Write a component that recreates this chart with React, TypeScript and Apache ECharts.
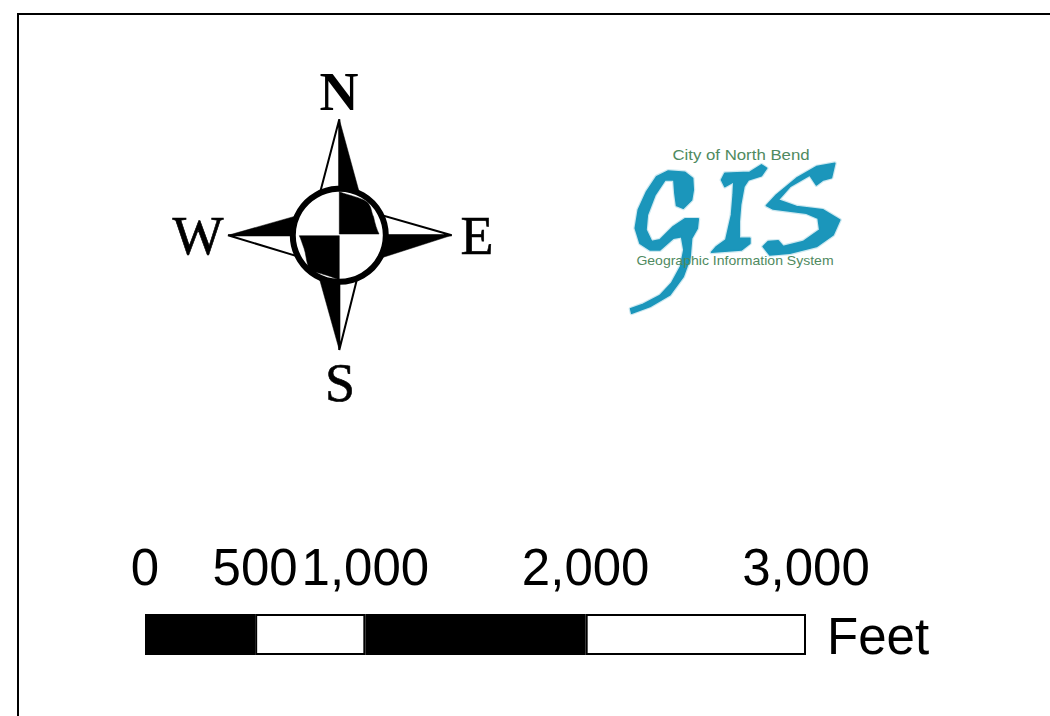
import React, { useEffect, useRef } from "react";
import * as echarts from "echarts";

const scaleTicks = [0, 500, 1000, 2000, 3000];
const segmentLengths = [500, 500, 1000, 1000];
const unitLabel = "Feet";
const directions = ["N", "E", "S", "W"];
const logoTop = "City of North Bend";
const logoBottom = "Geographic Information System";

const POINTS_BLACK_D =
  "M339.3 119.3 L358.9 191 L339.3 235.3 Z " +
  "M451.7 235.3 L381 258 L339.3 235.3 Z " +
  "M339.3 350 L319.5 279 L339.3 235.3 Z " +
  "M228 235.3 L297 215.7 L339.3 235.3 Z";
const POINTS_WHITE_D =
  "M339.3 119.3 L320.5 191 L339.3 235.3 Z " +
  "M451.7 235.3 L383 215.6 L339.3 235.3 Z " +
  "M339.3 350 L357 279 L339.3 235.3 Z " +
  "M228 235.3 L297 256.1 L339.3 235.3 Z";
const QUADRANTS_D =
  "M339.3 191.7 C350 196 360 197 367 202 C372 207 371 212 373.5 216.7 C375 224 377 230 379 234 L339.3 234 Z " +
  "M299.3 235.7 L339.3 235.7 L339.3 280 C330 276 325 275 320 273.3 C314 272 310 270 308.3 266.7 C306 260 306 254 304 248.3 C302 243 301 239 299.3 235.7 Z";
const G_D =
  "M62 522 L100 508 L150 482 L185 445 L212 395 L222 345 L215 305 L190 310 L150 345 L120 345 L90 325 L76 280 L85 225 L110 170 L140 125 L175 108 L225 112 L248 130 L250 165 L245 195 L220 220 L200 212 L195 175 L192 135 L165 135 L135 180 L112 240 L108 285 L125 320 L150 315 L190 275 L225 252 L265 252 L262 280 L245 310 L240 370 L220 425 L180 480 L120 515 L65 535 Z";
const I_D =
  "M335 135 L345 115 L420 112 L455 90 L470 100 L455 122 L415 135 L402 155 L392 210 L388 260 L388 310 L420 310 L420 325 L395 345 L305 352 L320 335 L348 315 L365 240 L370 180 L372 140 L345 155 Z";
const S_D =
  "M675 85 L665 128 L640 135 L620 150 L600 120 L540 155 L505 195 L560 215 L640 225 L690 255 L670 300 L620 335 L540 355 L480 360 L460 335 L475 320 L505 318 L520 335 L580 320 L630 285 L625 250 L590 235 L490 222 L470 212 L500 180 L560 130 L620 95 Z";

echarts.graphic.registerShape("pointsBlack", echarts.graphic.extendPath(POINTS_BLACK_D, {}));
echarts.graphic.registerShape("pointsWhite", echarts.graphic.extendPath(POINTS_WHITE_D, {}));
echarts.graphic.registerShape("quadrants", echarts.graphic.extendPath(QUADRANTS_D, {}));
echarts.graphic.registerShape("logoG", echarts.graphic.extendPath(G_D, {}));
echarts.graphic.registerShape("logoI", echarts.graphic.extendPath(I_D, {}));
echarts.graphic.registerShape("logoS", echarts.graphic.extendPath(S_D, {}));

export default function App() {
  const ref = useRef<HTMLDivElement>(null);
  useEffect(() => {
    const chart = echarts.init(ref.current!, undefined, { renderer: "svg" });
    const serif = "'Liberation Serif', serif";
    const sans = "'Liberation Sans', sans-serif";
    const dirPos: Record<string, [number, number]> = {
      N: [339, 92], E: [477, 236], S: [340, 383], W: [198, 236],
    };
    const logoShape = (type: string, width: number, opacity: number, z: number) => ({
      type, x: 610, y: 135, scaleX: 1 / 3, scaleY: 1 / 3, z,
      style: { fill: "#1b96bb", stroke: "#1b96bb", lineWidth: width, lineJoin: "round", opacity },
    });
    const logoNames = ["logoG", "logoI", "logoS"];
    chart.setOption({
      animation: false,
      backgroundColor: "#ffffff",
      grid: { left: 145, top: 614, width: 661, height: 41, containLabel: false },
      xAxis: {
        type: "value", min: 0, max: 3000, position: "top",
        axisLine: { show: false }, axisTick: { show: false }, splitLine: { show: false },
        axisLabel: {
          customValues: scaleTicks, margin: 21, color: "#000",
          fontFamily: sans, fontSize: 51, hideOverlap: false,
          formatter: (v: number) => v.toLocaleString("en-US"),
        },
      },
      yAxis: { type: "category", show: false, data: ["scale"] },
      series: segmentLengths.map((v, i) => ({
        type: "bar", stack: "scale", barWidth: "100%", data: [v], silent: true,
        itemStyle: { color: i % 2 === 0 ? "#000" : "#fff", borderColor: "#000", borderWidth: 2 },
      })),
      graphic: [
        { type: "rect", shape: { x: 18, y: 14, width: 1200, height: 900 }, style: { fill: "none", stroke: "#000", lineWidth: 2 } },
        { type: "pointsWhite", z: 1, style: { fill: "#fff", stroke: "#000", lineWidth: 2 } },
        { type: "pointsBlack", z: 2, style: { fill: "#000", stroke: "#000", lineWidth: 0.5 } },
        { type: "circle", z: 3, shape: { cx: 339.3, cy: 235.3, r: 46.5 }, style: { fill: "#fff", stroke: "#000", lineWidth: 6 } },
        { type: "quadrants", z: 4, style: { fill: "#000", stroke: "#000", lineWidth: 0.5 } },
        ...directions.map((d) => ({
          type: "text", x: dirPos[d][0], y: dirPos[d][1],
          style: {
            text: d, font: `${d === "N" ? "bold " : ""}54px ${serif}`, fill: "#000",
            stroke: "#000", lineWidth: d === "N" ? 0 : 0.6, align: "center", verticalAlign: "middle",
          },
        })),
        ...logoNames.map((n) => logoShape(n, 12, 0.22, 1)),
        ...logoNames.map((n) => logoShape(n, 5, 1, 2)),
        { type: "text", z: 5, x: 741, y: 155, scaleX: 1.2, style: { text: logoTop, font: `14px ${sans}`, fill: "#4f8a60", align: "center", verticalAlign: "middle" } },
        { type: "text", z: 5, x: 735, y: 261, scaleX: 1.08, style: { text: logoBottom, font: `13px ${sans}`, fill: "#4f8a60", align: "center", verticalAlign: "middle" } },
        { type: "text", x: 827, y: 636, style: { text: unitLabel, font: `51px ${sans}`, fill: "#000", align: "left", verticalAlign: "middle" } },
      ],
    });
    return () => chart.dispose();
  }, []);
  return <div ref={ref} style={{ position: "absolute", left: 0, top: 0, width: 1050, height: 716 }} />;
}
